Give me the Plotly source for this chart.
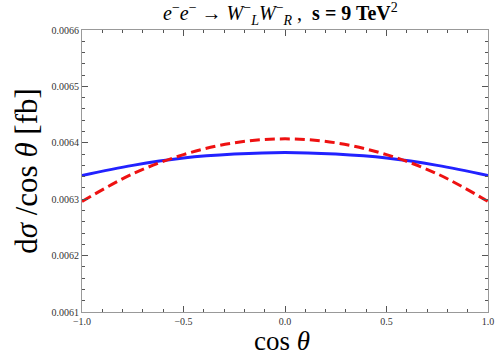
import plotly.graph_objects as go

cos_theta = [-1.0, -0.75, -0.5, -0.25, 0.0, 0.25, 0.5, 0.75, 1.0]
sigma_blue = [0.006342, 0.006360, 0.006373, 0.006380, 0.006383, 0.006380, 0.006373, 0.006360, 0.006342]
sigma_red = [0.006296, 0.006345, 0.006379, 0.006400, 0.006407, 0.006400, 0.006379, 0.006345, 0.006296]

x_ticks = [-1.0, -0.5, 0.0, 0.5, 1.0]
x_labels = ['\u22121.0', '\u22120.5', '0.0', '0.5', '1.0']
y_ticks = [0.0061, 0.0062, 0.0063, 0.0064, 0.0065, 0.0066]

serif = 'Liberation Serif'

fig = go.Figure()
fig.add_trace(go.Scatter(x=cos_theta, y=sigma_blue, mode='lines',
                         line=dict(color='#2222ff', width=3, shape='spline'),
                         showlegend=False))
fig.add_trace(go.Scatter(x=cos_theta, y=sigma_red, mode='lines',
                         line=dict(color='#ee1111', width=3, dash='10px,5px', shape='spline'),
                         showlegend=False))

axis_common = dict(
    showgrid=False, zeroline=False, showline=True, linecolor='#999999', linewidth=1,
    mirror='ticks', ticks='inside', ticklen=6, tickcolor='#555555', tickwidth=1,
    tickfont=dict(family=serif, size=10, color='#333333'), ticklabeloverflow='allow',
)

fig.update_xaxes(
    range=[-1, 1], tickvals=x_ticks, ticktext=x_labels,
    minor=dict(dtick=0.1, ticks='inside', ticklen=3, tickcolor='#555555', showgrid=False),
    **axis_common,
)
fig.update_yaxes(
    range=[0.0061, 0.0066], tickvals=y_ticks, tickformat='.4f',
    minor=dict(dtick=0.00002, ticks='inside', ticklen=3, tickcolor='#555555', showgrid=False),
    title=dict(text='d<i>\u03c3</i> /cos <i>\u03b8</i> [fb]', font=dict(family=serif, size=31, color='black'), standoff=4),
    **axis_common,
)

fig.update_layout(
    width=501, height=356,
    margin=dict(l=82, r=7, t=30, b=44),
    paper_bgcolor='white', plot_bgcolor='white',
    annotations=[
        dict(text='<i>e</i><sup>\u2212</sup><i>e</i><sup>\u2212</sup> \u2192 <i>W</i><sup>\u2212</sup><sub><i>L</i></sub><i>W</i><sup>\u2212</sup><sub><i>R</i></sub> ,  <b>s = 9 TeV</b><sup>2</sup>',
             xref='paper', yref='paper', x=0.49, y=1.0, yshift=16, xanchor='center', yanchor='middle',
             showarrow=False, font=dict(family=serif, size=20, color='black')),
        dict(text='cos <i>\u03b8</i>', xref='paper', yref='paper', x=0.493, y=0, yshift=-29,
             xanchor='center', yanchor='middle', showarrow=False,
             font=dict(family=serif, size=27, color='black')),
    ],
)

# page body has a default 8px margin; drop it so the figure fills the window
fig.write_html("out.html", config={'displayModeBar': False},
               post_script="document.body.style.margin='0';")
